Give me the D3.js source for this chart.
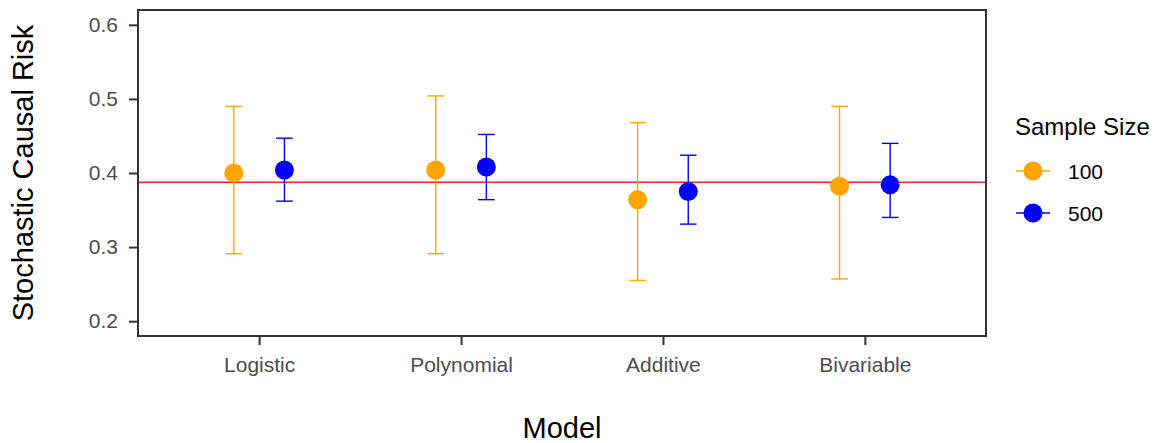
<!DOCTYPE html>
<html>
<head>
<meta charset="utf-8">
<script src="https://cdn.jsdelivr.net/npm/d3@7"></script>
<style>
  body { margin: 0; background: #fff; overflow: hidden; }
  text { font-family: "Liberation Sans", Arial, sans-serif; }
</style>
</head>
<body>
<script>
const models = ["Logistic", "Polynomial", "Additive", "Bivariable"];
const sampleSizes = ["100", "500"];
const sizeColors = ["#FFA500", "#0000FF"];

const est100 = [0.400, 0.404, 0.364, 0.382];
const lo100 = [0.291, 0.291, 0.255, 0.257];
const hi100 = [0.490, 0.504, 0.468, 0.490];

const est500 = [0.404, 0.408, 0.375, 0.384];
const lo500 = [0.362, 0.364, 0.331, 0.340];
const hi500 = [0.447, 0.452, 0.424, 0.440];

const trueRisk = 0.3875;
const yTicks = [0.2, 0.3, 0.4, 0.5, 0.6];

// build rows from the arrays
const rows = [];
models.forEach((m, i) => {
    rows.push({model: m, size: "100", est: est100[i], lo: lo100[i], hi: hi100[i]});
    rows.push({model: m, size: "500", est: est500[i], lo: lo500[i], hi: hi500[i]});
});

const width = 1162, height = 443;
const panel = {left: 138, top: 10, right: 986, bottom: 336};

const svg = d3.select("body").append("svg")
    .attr("width", width)
    .attr("height", height);

const x = d3.scalePoint()
    .domain(models)
    .range([panel.left, panel.right])
    .padding(0.6);

const dodge = d3.scalePoint()
    .domain(sampleSizes)
    .range([-25.3, 25.3]);

const y = d3.scaleLinear()
    .domain([0.18, 0.62])
    .range([panel.bottom, panel.top]);

const color = d3.scaleOrdinal().domain(sampleSizes).range(sizeColors);

// axes
const yAxis = svg.append("g")
    .attr("class", "yaxis")
    .attr("transform", "translate(" + panel.left + ",0)")
    .call(d3.axisLeft(y).tickValues(yTicks).tickFormat(d3.format(".1f")).tickSize(9).tickPadding(11));

const xAxis = svg.append("g")
    .attr("class", "xaxis")
    .attr("transform", "translate(0," + panel.bottom + ")")
    .call(d3.axisBottom(x).tickSize(9).tickPadding(12));

[yAxis, xAxis].forEach((g) => {
    g.select(".domain").remove();
    g.selectAll(".tick line").attr("stroke", "#333333").attr("stroke-width", 2);
    g.selectAll(".tick text")
        .style("font-size", "21px")
        .style("font-family", '"Liberation Sans", Arial, sans-serif')
        .attr("fill", "#4D4D4D");
});

// reference line
svg.append("line")
    .attr("x1", panel.left).attr("x2", panel.right)
    .attr("y1", y(trueRisk)).attr("y2", y(trueRisk))
    .attr("stroke", "#FF2020")
    .attr("stroke-width", 1.4);

// error bars
const capHalf = 8.3;
const bars = svg.selectAll("g.bar").data(rows).enter().append("g")
    .attr("class", "bar")
    .attr("stroke", (d) => color(d.size))
    .attr("stroke-width", 1.4);

bars.append("line")
    .attr("x1", (d) => x(d.model) + dodge(d.size))
    .attr("x2", (d) => x(d.model) + dodge(d.size))
    .attr("y1", (d) => y(d.lo))
    .attr("y2", (d) => y(d.hi));
bars.append("line")
    .attr("x1", (d) => x(d.model) + dodge(d.size) - capHalf)
    .attr("x2", (d) => x(d.model) + dodge(d.size) + capHalf)
    .attr("y1", (d) => y(d.hi))
    .attr("y2", (d) => y(d.hi));
bars.append("line")
    .attr("x1", (d) => x(d.model) + dodge(d.size) - capHalf)
    .attr("x2", (d) => x(d.model) + dodge(d.size) + capHalf)
    .attr("y1", (d) => y(d.lo))
    .attr("y2", (d) => y(d.lo));

// points
svg.selectAll("circle.pt").data(rows).enter().append("circle")
    .attr("class", "pt")
    .attr("cx", (d) => x(d.model) + dodge(d.size))
    .attr("cy", (d) => y(d.est))
    .attr("r", 9.5)
    .attr("fill", (d) => color(d.size));

// panel border
svg.append("rect")
    .attr("x", panel.left).attr("y", panel.top)
    .attr("width", panel.right - panel.left)
    .attr("height", panel.bottom - panel.top)
    .attr("fill", "none")
    .attr("stroke", "#333333")
    .attr("stroke-width", 2);

// axis titles
svg.append("text")
    .attr("x", (panel.left + panel.right) / 2)
    .attr("y", 438)
    .attr("text-anchor", "middle")
    .style("font-size", "29px")
    .attr("fill", "#000")
    .text("Model");

svg.append("text")
    .attr("transform", "translate(33," + ((panel.top + panel.bottom) / 2) + ") rotate(-90)")
    .attr("text-anchor", "middle")
    .style("font-size", "29px")
    .attr("fill", "#000")
    .text("Stochastic Causal Risk");

// legend
const legend = svg.append("g").attr("transform", "translate(1015,0)");
legend.append("text")
    .attr("x", 0).attr("y", 134.5)
    .style("font-size", "24px")
    .attr("fill", "#000")
    .text("Sample Size");

const keys = legend.selectAll("g.key").data(sampleSizes).enter().append("g")
    .attr("class", "key")
    .attr("transform", (d, i) => "translate(0," + (171 + i * 42) + ")");
keys.append("line")
    .attr("x1", 1).attr("x2", 35)
    .attr("stroke", (d) => color(d))
    .attr("stroke-width", 1.4);
keys.append("circle")
    .attr("cx", 18).attr("cy", 0).attr("r", 9.5)
    .attr("fill", (d) => color(d));
keys.append("text")
    .attr("x", 53).attr("dy", "0.36em")
    .style("font-size", "21px")
    .attr("fill", "#000")
    .text((d) => d);
</script>
</body>
</html>
